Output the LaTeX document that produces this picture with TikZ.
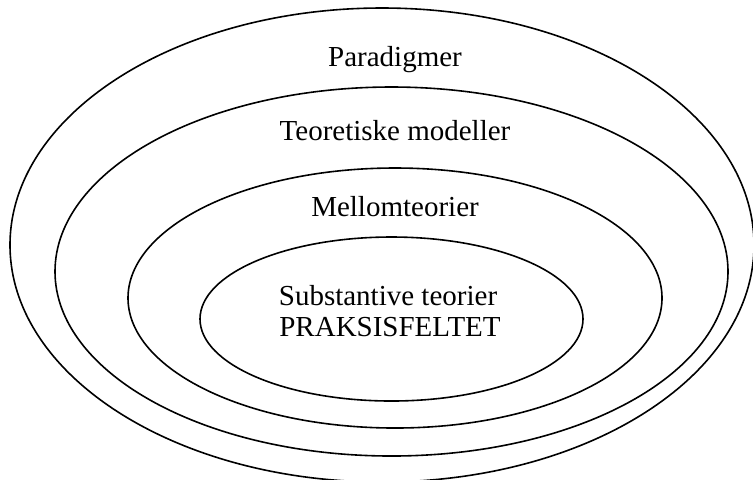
\documentclass[tikz,border=0pt]{standalone}
\usepackage{fontspec}
\setmainfont{Liberation Serif}
\usetikzlibrary{shapes.geometric}
\tikzset{
  ring/.style={ellipse, draw=black, line width=0.8pt, inner sep=0pt},
  rlabel/.style={font=\fontsize{14.5}{17}\selectfont, inner sep=0pt, anchor=base},
}
\begin{document}
\begin{tikzpicture}[x=0.5pt,y=-0.5pt]
\useasboundingbox (0,0) rectangle (753,479);
\node[ring,minimum width=372pt,minimum height=237pt] (para) at (382,245) {};
\node[ring,minimum width=336.5pt,minimum height=184.5pt] (teori) at (391.5,271.5) {};
\node[ring,minimum width=267pt,minimum height=130pt] (mellom) at (395,298) {};
\node[ring,minimum width=191.5pt,minimum height=82pt] (subst) at (391.5,319) {};
\node[rlabel] (lpara) at (395,66) {Paradigmer};
\node[rlabel] (lteori) at (395,140) {Teoretiske modeller};
\node[rlabel] (lmellom) at (395,216) {Mellomteorier};
\node[rlabel] (lsubst) at (388,305) {Substantive teorier};
\node[rlabel] (lprak) at (390,336) {PRAKSISFELTET};
\end{tikzpicture}
\end{document}
